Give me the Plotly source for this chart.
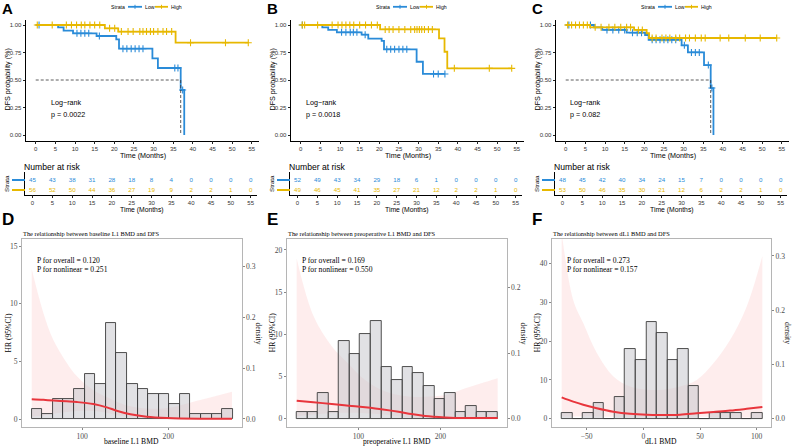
import plotly.graph_objects as go

W, H = 794, 447
def PX(x): return x / W
def PY(y): return 1 - y / H

BLUE = '#2A8BD8'
YELLOW = '#E7B800'
SANS = 'Liberation Sans, Arial, sans-serif'
SERIF = 'Liberation Serif, Times New Roman, serif'

# ---------------- Kaplan-Meier data ----------------
risk_times = [0, 5, 10, 15, 20, 25, 30, 35, 40, 45, 50, 55]
strata_names = ['Low', 'High']

A_low_t = [5.7, 7.1, 9.5, 15.5, 20.5, 21.2, 29.7, 31.1, 36.9, 37.8]
A_low_s = [0.979, 0.948, 0.924, 0.900, 0.870, 0.785, 0.697, 0.609, 0.409, 0.0]
A_low_cens = [0.85, 10.5, 11.5, 12.5, 13.5, 16.2, 22.2, 23.2, 24.3, 25.3, 26.3, 27.3, 35.4, 36.2, 37.4]
A_high_t = [17.6, 21.0, 35.6]
A_high_s = [0.970, 0.940, 0.839]
A_high_cens = [0.4, 4.2, 7.8, 9.1, 10.4, 11.6, 12.5, 13.8, 15.0, 16.3, 18.8, 20.1, 21.8, 23.5, 24.8,
               26.5, 27.3, 28.2, 29.2, 30.0, 31.1, 32.4, 33.3, 34.6, 39.4, 48.3, 54.1]
A_low_risk = [45, 43, 38, 31, 28, 18, 8, 4, 0, 0, 0, 0]
A_high_risk = [56, 52, 50, 44, 36, 27, 19, 9, 2, 2, 1, 0]
A_p = 'p = 0.0022'

B_low_t = [5.5, 7.0, 9.2, 15.5, 17.2, 20.6, 21.2, 29.5, 31.1]
B_low_s = [0.979, 0.955, 0.933, 0.912, 0.876, 0.855, 0.779, 0.666, 0.555]
B_low_cens = [0.4, 10.4, 11.5, 12.6, 13.4, 14.3, 16.4, 21.9, 22.9, 23.9, 25.0, 26.0, 27.0, 33.8, 35.0, 36.7]
B_high_t = [20.2, 35.2, 36.6, 37.3]
B_high_s = [0.960, 0.879, 0.757, 0.606]
B_high_cens = [0.4, 1.0, 4.3, 8.0, 9.5, 10.5, 11.5, 12.5, 13.5, 15.0, 16.5, 18.0, 19.5, 21.5, 22.5,
               23.5, 25.0, 26.5, 28.0, 29.0, 29.6, 30.2, 30.8, 31.5, 32.5, 33.5, 39.1, 48.0, 53.7]
B_low_risk = [52, 49, 43, 34, 29, 18, 6, 1, 0, 0, 0, 0]
B_high_risk = [49, 46, 45, 41, 35, 27, 21, 12, 2, 2, 1, 0]
B_p = 'p = 0.0018'

C_low_t = [7.2, 9.3, 15.5, 20.2, 21.1, 29.5, 31.1, 35.2, 36.9, 37.6]
C_low_s = [0.978, 0.955, 0.930, 0.909, 0.866, 0.815, 0.751, 0.636, 0.427, 0.0]
C_low_cens = [0.8, 6.3, 10.5, 12.0, 13.5, 15.0, 17.0, 18.2, 19.3, 22.0, 23.0, 24.0, 25.0, 26.0, 27.0,
              28.0, 30.2, 32.0, 33.0, 34.0, 36.3, 37.2]
C_high_t = [6.2, 17.4, 20.6, 21.2]
C_high_s = [0.979, 0.955, 0.925, 0.882]
C_high_cens = [0.5, 1.5, 2.5, 3.5, 4.5, 5.5, 7.5, 9.0, 11.0, 12.5, 14.0, 15.5, 16.5, 18.5, 19.5, 22.0,
               23.0, 24.5, 25.5, 26.5, 28.0, 29.0, 30.5, 31.5, 33.0, 34.5, 35.5, 39.3, 41.5, 45.7, 49.5, 53.7]
C_low_risk = [48, 45, 42, 40, 34, 24, 15, 7, 0, 0, 0, 0]
C_high_risk = [53, 50, 46, 35, 30, 21, 12, 6, 2, 2, 1, 0]
C_p = 'p = 0.082'

# ---------------- RCS / histogram data ----------------
N_total = 101
D_counts = [2, 1, 4, 4, 6, 9, 7, 19, 13, 7, 6, 5, 5, 3, 5, 1, 1, 1, 2]
D_bin_start, D_bin_width = 41.5, 12.28
D_x = [41.5, 55, 66.6, 82.2, 94, 113, 128.7, 140, 156, 175, 198.5, 237, 274]
D_hr = [1.71, 1.66, 1.60, 1.53, 1.47, 1.30, 1.01, 0.72, 0.41, 0.20, 0.09, 0.03, 0.03]
D_hi = [13.0, 9.2, 6.85, 4.86, 3.7, 2.5, 1.9, 1.5, 1.1, 0.9, 0.95, 1.65, 2.37]
D_lo = [0.2, 0.3, 0.45, 0.6, 0.7, 0.7, 0.55, 0.35, 0.15, 0.05, 0.01, 0.0, 0.0]
D_title = 'The relationship between baseline L1 BMD and DFS'
D_xlab = 'baseline L1 BMD'
D_p = ['P for overall = 0.120', 'P for nonlinear = 0.251']

E_counts = [1, 1, 4, 1, 12, 10, 13, 15, 8, 6, 8, 7, 5, 3, 4, 1, 2, 1, 1]
E_bin_start, E_bin_width = 24.6, 12.92
E_x = [24.6, 45, 67.4, 88, 108.2, 130, 149, 165, 181.6, 206, 230.6, 250, 270]
E_hr = [2.14, 1.95, 1.75, 1.55, 1.35, 1.1, 0.83, 0.55, 0.32, 0.16, 0.08, 0.08, 0.08]
E_hi = [19, 12.2, 8.6, 6.5, 4.6, 3.35, 2.8, 2.6, 2.6, 2.8, 3.6, 4.2, 4.8]
E_lo = [0.3, 0.5, 0.65, 0.7, 0.65, 0.5, 0.3, 0.15, 0.05, 0.01, 0.0, 0.0, 0.0]
E_title = 'The relationship between preoperative L1 BMD and DFS'
E_xlab = 'preoperative L1 BMD'
E_p = ['P for overall = 0.169', 'P for nonlinear = 0.550']

F_counts = [1, 0, 1, 3, 0, 4, 13, 11, 18, 16, 11, 13, 6, 0, 1, 1, 1, 0, 1]
F_bin_start, F_bin_width = -72.0, 9.32
F_x = [-72, -61.8, -53, -41.1, -26.4, -11.7, 3, 17.6, 32.3, 47.1, 61.8, 76.5, 91.2, 105]
F_hr = [5.5, 4.4, 3.6, 2.7, 1.8, 1.25, 1.0, 0.95, 1.05, 1.4, 1.75, 2.1, 2.55, 3.0]
F_hi = [48, 30.6, 24.7, 17, 10.9, 8.3, 7.5, 7.5, 8.3, 10, 14.3, 20.3, 29, 42]
F_lo = [0.6, 0.6, 0.6, 0.6, 0.5, 0.5, 0.5, 0.5, 0.5, 0.5, 0.45, 0.4, 0.3, 0.2]
F_title = 'The relationship between dL1 BMD and DFS'
F_xlab = 'dL1 BMD'
F_p = ['P for overall = 0.273', 'P for nonlinear = 0.157']

# ---------------- helpers ----------------
def ref(k, n):
    return k if n == 1 else f'{k}{n}'

def axkey(k, n):
    return f'{k}axis' if n == 1 else f'{k}axis{n}'

def km_points(ev_t, ev_s, cens):
    items = sorted([(t, 0, s) for t, s in zip(ev_t, ev_s)] + [(t, 1, None) for t in cens])
    cur = 1.0
    xs, ys, cx, cy = [0.0], [1.0], [], []
    for t, kind, s in items:
        if kind == 0:
            cur = s
        xs.append(t)
        ys.append(cur)
        if kind == 1:
            cx.append(t)
            cy.append(cur)
    return xs, ys, cx, cy

def median_time(ev_t, ev_s):
    for t, s in zip(ev_t, ev_s):
        if s <= 0.5:
            return t
    return None

fig = go.Figure()
layout = {}
ann = []
shapes = []

def text(x, y, s, size, family=SANS, color='#000', xa='center', ya='middle', angle=0):
    ann.append(dict(x=PX(x), y=PY(y), xref='paper', yref='paper', text=s, showarrow=False,
                    font=dict(family=family, size=size, color=color), xanchor=xa, yanchor=ya,
                    textangle=angle, borderpad=0))

def hline(x0, x1, y, color, width):
    shapes.append(dict(type='line', xref='paper', yref='paper', x0=PX(x0), x1=PX(x1),
                       y0=PY(y), y1=PY(y), line=dict(color=color, width=width)))

def vline(x, y0, y1, color, width):
    shapes.append(dict(type='line', xref='paper', yref='paper', x0=PX(x), x1=PX(x),
                       y0=PY(y0), y1=PY(y1), line=dict(color=color, width=width)))

# ---------------- KM panels ----------------
km_panels = [
    ('A', A_low_t, A_low_s, A_low_cens, A_high_t, A_high_s, A_high_cens, A_low_risk, A_high_risk, A_p, 50),
    ('B', B_low_t, B_low_s, B_low_cens, B_high_t, B_high_s, B_high_cens, B_low_risk, B_high_risk, B_p, 40),
    ('C', C_low_t, C_low_s, C_low_cens, C_high_t, C_high_s, C_high_cens, C_low_risk, C_high_risk, C_p, 39),
]
offsets = [0, 265, 530]
km_axis_common = dict(showgrid=False, zeroline=False, showline=True, linecolor='#000', linewidth=0.8,
                      ticks='outside', ticklen=2.5, tickwidth=0.6, tickcolor='#222',
                      tickfont=dict(family=SANS, size=6, color='#333'))

for i, (lab, lt, ls, lc, ht, hs, hc, lr, hr_, ptxt, lrx) in enumerate(km_panels):
    o = offsets[i]
    nk, nt = 1 + i, 4 + i
    layout[axkey('x', nk)] = dict(km_axis_common, domain=[PX(26 + o), PX(258.5 + o)],
                                  range=[-2.47, 56.7], tickvals=risk_times, anchor=ref('y', nk))
    layout[axkey('y', nk)] = dict(km_axis_common, domain=[PY(140.5), PY(19.5)], range=[-0.05, 1.05],
                                  tickvals=[0, 0.25, 0.5, 0.75, 1.0], tickformat='.2f', anchor=ref('x', nk))
    for (et, es, ce, col) in [(lt, ls, lc, BLUE), (ht, hs, hc, YELLOW)]:
        xs, ys, cx, cy = km_points(et, es, ce)
        fig.add_trace(go.Scatter(x=xs, y=ys, mode='lines', line=dict(color=col, width=1.8, shape='hv'),
                                 xaxis=ref('x', nk), yaxis=ref('y', nk), showlegend=False, hoverinfo='skip'))
        fig.add_trace(go.Scatter(x=cx, y=cy, mode='markers',
                                 marker=dict(symbol='cross-thin', size=5, line=dict(color=col, width=1.1)),
                                 xaxis=ref('x', nk), yaxis=ref('y', nk), showlegend=False, hoverinfo='skip'))
    m = median_time(lt, ls)
    if m is not None:
        fig.add_trace(go.Scatter(x=[0, m, m], y=[0.5, 0.5, 0], mode='lines',
                                 line=dict(color='#333', width=0.8, dash='3px,2px'),
                                 xaxis=ref('x', nk), yaxis=ref('y', nk), showlegend=False, hoverinfo='skip'))
    layout[axkey('x', nt)] = dict(km_axis_common, domain=[PX(25 + o), PX(257 + o)], range=[-1.9, 56.6],
                                  tickvals=risk_times, anchor=ref('y', nt))
    layout[axkey('y', nt)] = dict(showgrid=False, zeroline=False, showline=True, linecolor='#000',
                                  linewidth=0.8, showticklabels=False, ticks='',
                                  domain=[PY(194.5), PY(172)], range=[0.55, 2.8], anchor=ref('x', nt))
    for row, (vals, col) in zip([2, 1], [(lr, BLUE), (hr_, YELLOW)]):
        fig.add_trace(go.Scatter(x=risk_times, y=[row] * len(risk_times), mode='text',
                                 text=[str(v) for v in vals],
                                 textfont=dict(family=SANS, size=6.2, color=col),
                                 xaxis=ref('x', nt), yaxis=ref('y', nt), showlegend=False,
                                 hoverinfo='skip', cliponaxis=False))
    text(7 + o, 8.5, '<b>' + lab + '</b>', 15)
    text(6.5 + o, 80, 'DFS probability (%)', 7.2, angle=-90)
    text(142.5 + o, 155.2, 'Time (Months)', 7.2)
    text(lrx + o, 102.7, 'Log\u2212rank', 7.2, xa='left')
    text(lrx + o, 114.2, ptxt, 7.2, xa='left')
    text(118 + o, 6.8, 'Strata', 5.2)
    hline(128 + o, 142 + o, 6.8, BLUE, 1.8)
    vline(135 + o, 4.8, 8.8, BLUE, 1.0)
    text(144 + o, 6.8, 'Low', 5.2, xa='left')
    hline(155 + o, 168 + o, 6.8, YELLOW, 1.8)
    vline(161.5 + o, 4.8, 8.8, YELLOW, 1.0)
    text(170 + o, 6.8, 'High', 5.2, xa='left')
    text(22.7 + o, 167, 'Number at risk', 8.6, xa='left')
    text(6 + o, 184, 'Strata', 6.2, angle=-90)
    text(142 + o, 209.5, 'Time (Months)', 6.8)
    hline(12 + o, 25 + o, 180, BLUE, 2.0)
    hline(12 + o, 25 + o, 190, YELLOW, 2.0)

# ---------------- RCS panels ----------------
rcs_panels = [
    ('D', D_counts, D_bin_start, D_bin_width, D_x, D_hr, D_hi, D_lo, D_title, D_xlab, D_p,
     [30.2, 285.0], [100, 200], [-0.694, 15.61], [0, 5, 10, 15], [-0.0157, 0.353], [0.0, 0.1, 0.2, 0.3]),
    ('E', E_counts, E_bin_start, E_bin_width, E_x, E_hr, E_hi, E_lo, E_title, E_xlab, E_p,
     [12.4, 280.8], [100, 200], [-0.98, 21.3], [0, 5, 10, 15, 20], [-0.0126, 0.2735], [0.0, 0.1, 0.2]),
    ('F', F_counts, F_bin_start, F_bin_width, F_x, F_hr, F_hi, F_lo, F_title, F_xlab, F_p,
     [-80.8, 112.6], [-50, 0, 50, 100], [-2.14, 46.4], [0, 10, 20, 30, 40], [-0.0153, 0.331], [0.0, 0.1, 0.2, 0.3]),
]
box_left = [22, 286.7, 551.7]
box_right = [241.5, 506.5, 771]
BOX_T, BOX_B = 239, 427
GRAY = '#4d4d4d'
rcs_common = dict(showgrid=False, zeroline=False, ticks='outside', ticklen=2, tickwidth=0.6,
                  tickcolor='#888', color=GRAY, tickfont=dict(family=SERIF, size=7.6, color=GRAY))

for i, (lab, counts, b0, bw, xs, hr, hi, lo, title, xlab, ptxt, xr, xt, yr, yt, dr, dt) in enumerate(rcs_panels):
    nx, ny, nd, nl = 7 + i, 7 + i, 10 + i, 13 + i
    L, R = box_left[i], box_right[i]
    layout[axkey('x', nx)] = dict(rcs_common, domain=[PX(L), PX(R)], range=xr, tickvals=xt,
                                  showline=True, mirror=True, linecolor='#b5b5b5', linewidth=0.8,
                                  anchor=ref('y', ny))
    layout[axkey('y', ny)] = dict(rcs_common, domain=[PY(BOX_B), PY(BOX_T)], range=yr, tickvals=yt,
                                  showline=True, mirror=True, linecolor='#b5b5b5', linewidth=0.8,
                                  anchor=ref('x', nx))
    layout[axkey('y', nd)] = dict(rcs_common, range=dr, tickvals=dt, tickformat='.1f', side='right',
                                  overlaying=ref('y', ny), anchor=ref('x', nx), showline=False)
    layout[axkey('y', nl)] = dict(range=yr, overlaying=ref('y', ny), anchor=ref('x', nx), visible=False)
    fig.add_trace(go.Scatter(x=xs, y=lo, mode='lines', line=dict(width=0, shape='spline'),
                             xaxis=ref('x', nx), yaxis=ref('y', ny), showlegend=False, hoverinfo='skip'))
    fig.add_trace(go.Scatter(x=xs, y=hi, mode='lines', line=dict(width=0, shape='spline'), fill='tonexty',
                             fillcolor='rgba(250,190,190,0.28)',
                             xaxis=ref('x', nx), yaxis=ref('y', ny), showlegend=False, hoverinfo='skip'))
    centers = [b0 + bw * (k + 0.5) for k in range(len(counts))]
    dens = [c / N_total for c in counts]
    fig.add_trace(go.Bar(x=centers, y=dens, width=bw,
                         marker=dict(color='rgba(200,200,205,0.55)', line=dict(color='#3c3c3c', width=0.9)),
                         xaxis=ref('x', nx), yaxis=ref('y', nd), showlegend=False, hoverinfo='skip'))
    fig.add_trace(go.Scatter(x=xs, y=hr, mode='lines', line=dict(color='#E8353C', width=2, shape='spline'),
                             xaxis=ref('x', nx), yaxis=ref('y', nl), showlegend=False, hoverinfo='skip'))
    o = offsets[i]
    text(7.5 + o if i < 2 else 537, 219, '<b>' + lab + '</b>', 17)
    text(L, 233, title, 6.4, family=SERIF, xa='left')
    text(L + 14, 260.7, ptxt[0], 7.6, family=SERIF, xa='left')
    text(L + 14, 269.3, ptxt[1], 7.6, family=SERIF, xa='left')
    text((L + R) / 2, 441.7, xlab, 7.6, family=SERIF)
    text(L - 14.5, 333, 'HR (95%CI)', 7.6, family=SERIF, angle=-90)
    text(R + 17, 333, 'density', 7.6, family=SERIF, color='#222', angle=90)

fig.update_layout(**layout)
fig.update_layout(width=W, height=H, autosize=False, margin=dict(l=0, r=0, t=0, b=0),
                  plot_bgcolor='rgba(0,0,0,0)', paper_bgcolor='#ffffff', showlegend=False,
                  annotations=ann, shapes=shapes, bargap=0)
fig.write_html('out.html')
